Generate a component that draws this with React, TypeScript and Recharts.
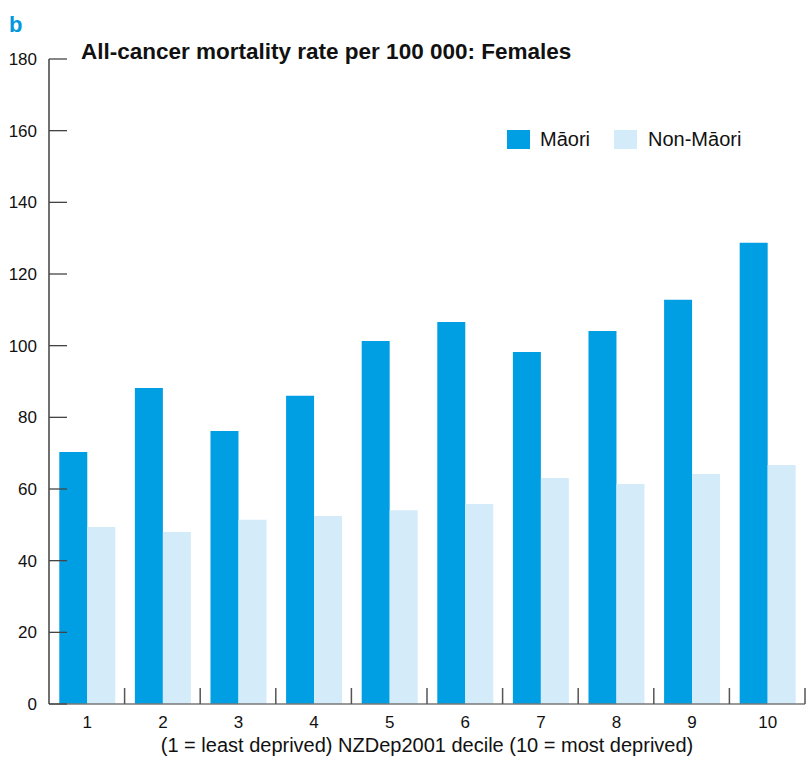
import React from 'react';
import { BarChart, Bar, XAxis, YAxis, Legend } from 'recharts';

const deciles = ['1', '2', '3', '4', '5', '6', '7', '8', '9', '10'];
const maori = [70.3, 88.2, 76.2, 86.0, 101.3, 106.6, 98.2, 104.1, 112.8, 128.7];
const nonMaori = [49.4, 48.0, 51.4, 52.5, 54.1, 55.8, 63.1, 61.4, 64.2, 66.7];
const yTicks = [0, 20, 40, 60, 80, 100, 120, 140, 160, 180];

const data = deciles.map((d, i) => ({ decile: d, maori: maori[i], nonMaori: nonMaori[i] }));

const FONT = '"Liberation Sans", Arial, sans-serif';
const MAORI_COLOR = '#009FE3';
const NON_COLOR = '#D4EBFA';

const W = 806;
const H = 758;
const LEFT = 49;
const RIGHT = 805;
const BAND = (RIGHT - LEFT) / deciles.length;

const YTick = (props: any) => {
  const { x, y, payload } = props;
  return (
    <g>
      <line x1={x} x2={x + 18} y1={y} y2={y} stroke="#444" strokeWidth={1.3} />
      <text x={x - 12} y={y} dy="0.36em" textAnchor="end" fontSize={17} fontFamily={FONT} fill="#111">
        {payload.value}
      </text>
    </g>
  );
};

const XTick = (props: any) => {
  const { x, y, payload } = props;
  const bx = x + BAND / 2;
  return (
    <g>
      <line x1={bx} x2={bx} y1={y} y2={y - 16} stroke="#555" strokeWidth={1.5} />
      <text x={x + 0.5} y={y + 24} textAnchor="middle" fontSize={17} fontFamily={FONT} fill="#111">
        {payload.value}
      </text>
    </g>
  );
};

const LegendContent = () => (
  <div style={{ display: 'flex', alignItems: 'center', fontFamily: FONT, fontSize: 20, color: '#111', lineHeight: '19px', whiteSpace: 'nowrap' }}>
    <span style={{ display: 'inline-block', width: 23, height: 19, background: MAORI_COLOR }} />
    <span style={{ marginLeft: 10 }}>Māori</span>
    <span style={{ display: 'inline-block', width: 23, height: 19, background: NON_COLOR, marginLeft: 24 }} />
    <span style={{ marginLeft: 11 }}>Non-Māori</span>
  </div>
);

export default function App() {
  return (
    <div style={{ position: 'absolute', left: 0, top: 0, width: W, height: H, background: '#fff' }}>
      <BarChart
        width={W}
        height={H}
        data={data}
        margin={{ top: 59, right: W - RIGHT, bottom: 0, left: 0 }}
        barCategoryGap="13.6%"
        barGap={0}
      >
        <XAxis
          dataKey="decile"
          height={54}
          tickSize={0}
          tickMargin={0}
          tickLine={false}
          axisLine={{ stroke: '#777', strokeWidth: 1.6 }}
          tick={<XTick />}
          interval={0}
        />
        <YAxis
          width={LEFT}
          domain={[0, 180]}
          ticks={yTicks}
          tickSize={0}
          tickMargin={0}
          tickLine={false}
          axisLine={{ stroke: '#111', strokeWidth: 1.2 }}
          tick={<YTick />}
          interval={0}
        />
        <Legend
          layout="horizontal"
          verticalAlign="middle"
          align="center"
          content={<LegendContent />}
          wrapperStyle={{ left: 507, top: 130, width: 260, height: 19 }}
        />
        <Bar dataKey="maori" name="Māori" fill={MAORI_COLOR} isAnimationActive={false} />
        <Bar dataKey="nonMaori" name="Non-Māori" fill={NON_COLOR} isAnimationActive={false} />
      </BarChart>
      <svg width={W} height={H} style={{ position: 'absolute', left: 0, top: 0, pointerEvents: 'none' }}>
        <text x={9} y={32} fontSize={22} fontWeight="bold" fontFamily={FONT} fill="#0099DD">b</text>
        <text x={81} y={59} fontSize={22.5} fontWeight="bold" fontFamily={FONT} fill="#111">
          All-cancer mortality rate per 100 000: Females
        </text>
        <text x={(LEFT + RIGHT) / 2} y={752} textAnchor="middle" fontSize={20} fontFamily={FONT} fill="#111">
          (1 = least deprived) NZDep2001 decile (10 = most deprived)
        </text>
      </svg>
    </div>
  );
}
